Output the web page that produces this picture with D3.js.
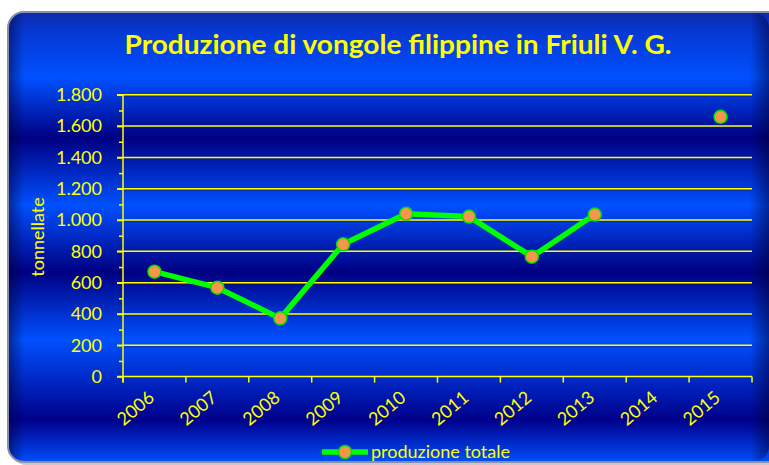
<!DOCTYPE html>
<html lang="it">
<meta charset="utf-8">
<head>
    <script src="https://d3js.org/d3.v7.min.js"></script>
    <style>
        body { margin: 0; background: #ffffff; }
        text { font-family: Lato, "Open Sans", sans-serif; fill: #ffff00; }
    </style>
</head>
<body>
<script>

// data
var years = ["2006", "2007", "2008", "2009", "2010", "2011", "2012", "2013", "2014", "2015"]
var production = [670, 568, 372, 845, 1040, 1022, 766, 1035, null, 1659]
var yTicks = [0, 200, 400, 600, 800, 1000, 1200, 1400, 1600, 1800]
var yTickLabels = ["0", "200", "400", "600", "800", "1.000", "1.200", "1.400", "1.600", "1.800"]
var yMinorTicks = [100, 300, 500, 700, 900, 1100, 1300, 1500, 1700]

var width = 769, height = 465
var plotLeft = 123, plotRight = 752, plotTop = 94.8, plotBottom = 376.6

var svg = d3.select("body")
    .append("svg")
    .attr("width", width)
    .attr("height", height)

// background gradient, horizontal bands
var defs = svg.append("defs")
var grad = defs.append("linearGradient")
    .attr("id", "bg")
    .attr("gradientUnits", "userSpaceOnUse")
    .attr("x1", 0).attr("x2", 0)
    .attr("y1", 12).attr("y2", 463)
var stops = [
    [12, "#0c2aa8"], [32, "#0638d4"], [78, "#0050ff"], [138, "#000082"],
    [205, "#0050ff"], [272, "#000082"], [340, "#0050ff"], [420, "#00008a"], [463, "#0050ff"]
]
stops.forEach(function(s) {
    grad.append("stop")
        .attr("offset", ((s[0] - 12) / (463 - 12)))
        .attr("stop-color", s[1])
})

var side = defs.append("linearGradient")
    .attr("id", "side")
    .attr("x1", 0).attr("x2", 1).attr("y1", 0).attr("y2", 0)
side.append("stop").attr("offset", 0).attr("stop-color", "#000030").attr("stop-opacity", 0.45)
side.append("stop").attr("offset", 0.02).attr("stop-color", "#000030").attr("stop-opacity", 0)
side.append("stop").attr("offset", 0.975).attr("stop-color", "#000030").attr("stop-opacity", 0)
side.append("stop").attr("offset", 1).attr("stop-color", "#000030").attr("stop-opacity", 0.5)

// soft shadow under frame
svg.append("rect")
    .attr("x", 10).attr("y", 15)
    .attr("width", 775).attr("height", 450)
    .attr("rx", 16)
    .attr("fill", "#c8c8d0")

svg.append("rect")
    .attr("x", 8).attr("y", 12)
    .attr("width", 775).attr("height", 450)
    .attr("rx", 16)
    .attr("fill", "url(#bg)")
    .attr("stroke", "#8a8fa6")
    .attr("stroke-width", 2)

svg.append("rect")
    .attr("x", 9).attr("y", 13)
    .attr("width", 760).attr("height", 448)
    .attr("rx", 15)
    .attr("fill", "url(#side)")

// title
svg.append("text")
    .attr("x", 398)
    .attr("y", 54)
    .attr("text-anchor", "middle")
    .attr("textLength", 547)
    .attr("lengthAdjust", "spacingAndGlyphs")
    .style("font-size", "26px")
    .style("font-weight", "bold")
    .text("Produzione di vongole filippine in Friuli V. G.")

// scales
var x = d3.scaleBand()
    .domain(years)
    .range([plotLeft, plotRight])

var y = d3.scaleLinear()
    .domain([0, 1800])
    .range([plotBottom, plotTop])

// gridlines
var grid = svg.append("g")
grid.selectAll(".shadow")
    .data(yTicks.slice(1))
    .enter().append("line")
    .attr("x1", plotLeft).attr("x2", plotRight)
    .attr("y1", function(d) { return y(d) + 1.5 })
    .attr("y2", function(d) { return y(d) + 1.5 })
    .attr("stroke", "#202040")
    .attr("stroke-opacity", 0.5)
    .attr("stroke-width", 1)
grid.selectAll(".grid")
    .data(yTicks.slice(1))
    .enter().append("line")
    .attr("x1", plotLeft - 6).attr("x2", plotRight)
    .attr("y1", function(d) { return y(d) })
    .attr("y2", function(d) { return y(d) })
    .attr("stroke", "#ffff00")
    .attr("stroke-width", 1.5)

// y axis
var yAxis = svg.append("g")
    .attr("transform", "translate(" + plotLeft + ",0)")
    .call(d3.axisLeft(y)
        .tickValues(yTicks)
        .tickSize(6)
        .tickPadding(15)
        .tickFormat(function(d, i) { return yTickLabels[i] }))
yAxis.select(".domain")
    .attr("d", "M0," + (plotBottom + 6) + "V" + plotTop)
yAxis.selectAll("line, .domain").attr("stroke", "#ffff00").attr("stroke-width", 1.5)
yAxis.selectAll("text")
    .style("font-size", "18px")
    .style("font-family", "Lato, 'Open Sans', sans-serif")
    .attr("fill", "#ffff00")

var yMinor = svg.append("g")
    .attr("transform", "translate(" + plotLeft + ",0)")
    .call(d3.axisLeft(y)
        .tickValues(yMinorTicks)
        .tickSize(4)
        .tickFormat(""))
yMinor.select(".domain").remove()
yMinor.selectAll("line").attr("stroke", "#ffff00").attr("stroke-width", 1.5)

// x axis
var xAxis = svg.append("g")
    .attr("transform", "translate(0," + plotBottom + ")")
    .call(d3.axisBottom(x).tickSize(0).tickPadding(0))
xAxis.select(".domain")
    .attr("d", "M" + (plotLeft - 6) + ",0H" + plotRight)
    .attr("stroke", "#ffff00")
    .attr("stroke-width", 1.5)
xAxis.selectAll("text")
    .style("font-size", "18px")
    .style("font-family", "Lato, 'Open Sans', sans-serif")
    .attr("fill", "#ffff00")
    .attr("text-anchor", "end")
    .attr("dy", 0)
    .attr("y", 0)
    .attr("transform", "translate(1,23) rotate(-40)")

svg.append("g")
    .selectAll("line")
    .data(years.map(function(d) { return x(d) }).concat([plotRight]))
    .enter().append("line")
    .attr("x1", function(d) { return d })
    .attr("x2", function(d) { return d })
    .attr("y1", plotBottom)
    .attr("y2", plotBottom + 6)
    .attr("stroke", "#ffff00")
    .attr("stroke-width", 1.5)

// y axis title
svg.append("text")
    .attr("transform", "translate(44,237) rotate(-90)")
    .attr("text-anchor", "middle")
    .style("font-size", "18px")
    .text("tonnellate")

// series
var points = years.map(function(d, i) { return { year: d, value: production[i] } })

svg.append("path")
    .datum(points)
    .attr("fill", "none")
    .attr("stroke", "#00ff00")
    .attr("stroke-width", 5.5)
    .attr("stroke-linejoin", "round")
    .attr("d", d3.line()
        .defined(function(d) { return d.value != null })
        .x(function(d) { return x(d.year) + x.bandwidth() / 2 })
        .y(function(d) { return y(d.value) })
    )

svg.append("g")
    .selectAll("circle")
    .data(points.filter(function(d) { return d.value != null }))
    .enter().append("circle")
    .attr("cx", function(d) { return x(d.year) + x.bandwidth() / 2 })
    .attr("cy", function(d) { return y(d.value) })
    .attr("r", 6.5)
    .attr("fill", "#f7964a")
    .attr("stroke", "#00e000")
    .attr("stroke-width", 1.5)

// legend
var legend = svg.append("g")
legend.append("line")
    .attr("x1", 322).attr("x2", 368)
    .attr("y1", 452).attr("y2", 452)
    .attr("stroke", "#00ff00")
    .attr("stroke-width", 5.5)
legend.append("circle")
    .attr("cx", 345).attr("cy", 452)
    .attr("r", 6.5)
    .attr("fill", "#f7964a")
    .attr("stroke", "#00e000")
    .attr("stroke-width", 1.5)
legend.append("text")
    .attr("x", 371)
    .attr("y", 458)
    .style("font-size", "18px")
    .text("produzione totale")

</script>
</body>
</html>
